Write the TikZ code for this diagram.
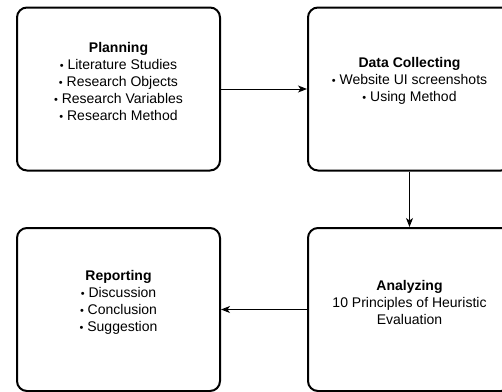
\documentclass[tikz,border=0pt]{standalone}
\usepackage{fontspec}
\setmainfont{Liberation Sans}
\usetikzlibrary{arrows.meta}
\newcommand{\blt}{{\fontsize{11}{11}\selectfont •}\ }
\begin{document}
\begin{tikzpicture}[x=1pt,y=-1pt,
  stagebox/.style={draw=black, line width=2pt, rounded corners=10pt, minimum width=203pt, minimum height=163pt, inner sep=0pt},
  stagetext/.style={align=center, font=\fontsize{14}{17}\selectfont, inner sep=0pt},
  flow/.style={draw=black, line width=1pt, -{Stealth[length=9pt,width=7pt,inset=2.5pt]}}]
\useasboundingbox (0,0) rectangle (502,391);
\node[stagebox] (plan) at (118.5,89) {};
\node[stagebox] (data) at (409.5,89) {};
\node[stagebox] (report) at (118.5,309.5) {};
\node[stagebox] (analyze) at (409.5,309.5) {};
\node[stagetext] (plant) at (118.5,81) {\textbf{Planning}\\ \blt Literature Studies\\ \blt Research Objects\\ \blt Research Variables\\ \blt Research Method};
\node[stagetext] (datat) at (409.5,81) {\textbf{Data Collecting}\\ \blt Website UI screenshots\\ \blt Using Method};
\node[stagetext] (reportt) at (118.5,302) {\textbf{Reporting}\\ \blt Discussion\\ \blt Conclusion\\ \blt Suggestion};
\node[stagetext] (analyzet) at (409.5,302) {\textbf{Analyzing}\\ 10 Principles of Heuristic\\ Evaluation};
\draw[flow] (plan.east) -- (data.west);
\draw[flow] (data.south) -- (analyze.north);
\draw[flow] (analyze.west) -- (report.east);
\end{tikzpicture}
\end{document}
